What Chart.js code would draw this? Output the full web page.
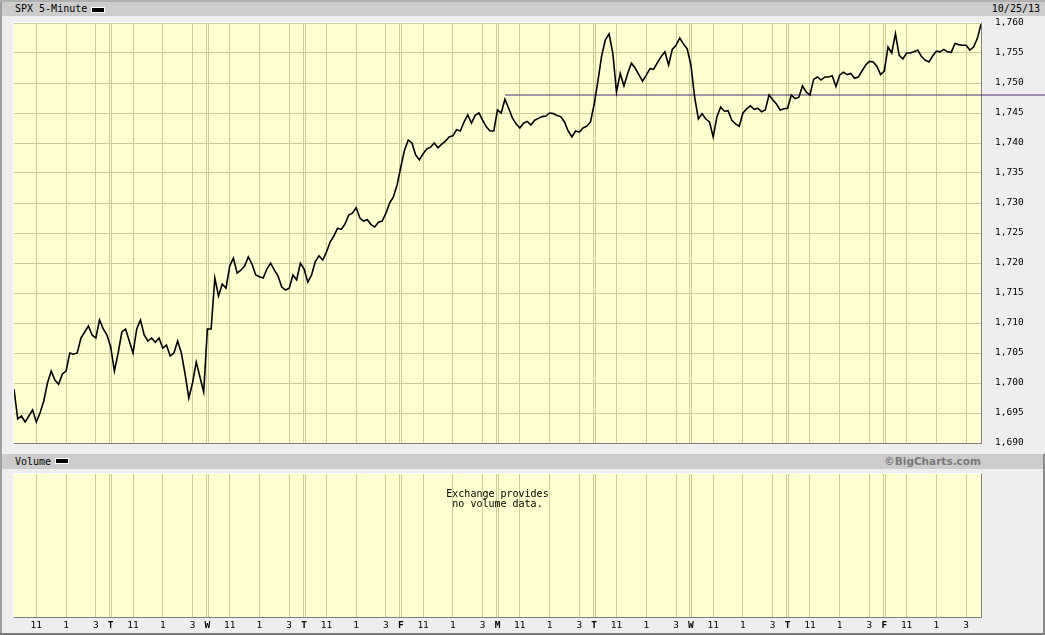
<!DOCTYPE html>
<html>
<head>
<meta charset="utf-8">
<script src="https://cdn.jsdelivr.net/npm/chart.js@4"></script>
<style>
  body { margin:0; width:1045px; height:635px; background:#eeeeee; position:relative; overflow:hidden;
         font-family:"DejaVu Sans Mono", monospace; font-size:10px; color:#000; }
  .abs { position:absolute; }
  .bar { position:absolute; left:2px; width:1043px; background:#cccccc; }
  .dash { position:absolute; width:12px; height:4px; background:#000; border:1px solid #fff; }
  .plotbg { position:absolute; left:13px; width:967px;
            background:repeating-conic-gradient(#ffffc2 0% 25%, #ffffe0 0% 50%) 0 0 / 2px 2px;
            border-left:1px solid #fff; border-top:1px solid #fff;
            border-right:1px solid #808080; border-bottom:1px solid #808080; }
  canvas { position:absolute; }
</style>
</head>
<body>
<div class="abs" style="left:0;top:0;width:2px;height:635px;background:#a0a0a0"></div>
<div class="abs" style="left:0;top:0;width:1045px;height:2px;background:#b0b0b0"></div>
<div class="abs" style="left:0;top:633px;width:1045px;height:2px;background:#7a7a7a"></div>
<div class="abs" style="left:1043px;top:454px;width:2px;height:181px;background:#8a8a8a"></div>

<div class="bar" style="top:2px;height:14px"></div>
<div class="abs" style="left:15px;top:3px;line-height:12px">SPX 5-Minute</div>
<div class="dash" style="left:91px;top:7px"></div>
<div class="abs" style="right:5px;top:3px;line-height:12px">10/25/13</div>

<div class="plotbg" style="top:22px;height:420px"></div>
<canvas id="price" width="1031" height="434" style="left:14px;top:16px"></canvas>

<div class="bar" style="top:454px;height:15px;width:1041px"></div>
<div class="abs" style="left:15px;top:455px;line-height:13px">Volume</div>
<div class="dash" style="left:55px;top:458px"></div>
<div class="abs" style="right:64px;top:455px;line-height:13px;font-family:'DejaVu Sans',sans-serif;font-weight:bold;font-size:10.5px;color:#7a7a7a">©BigCharts.com</div>

<div class="plotbg" style="top:473px;height:143px"></div>
<canvas id="volume" width="967" height="161" style="left:14px;top:474px"></canvas>
<div class="abs" style="left:14px;top:489px;width:967px;text-align:center;line-height:10px">Exchange provides<br>no volume data.</div>

<script>
// SPX 5-minute, two trading weeks ending 10/25/13, read every 15 minutes from 9:30
var mon1 = [1699, 1694, 1694.5, 1693.5, 1694.5, 1695.5, 1693.5, 1695, 1697, 1700, 1702, 1700.5, 1699.8,
            1701.5, 1702, 1705, 1704.8, 1705, 1707.5, 1708.5, 1709.5, 1708, 1707.5, 1710.5, 1709, 1708];
var tue1 = [1706, 1702, 1705, 1708.5, 1709, 1707, 1705, 1709, 1710.5, 1708, 1707, 1707.5, 1706.8,
            1707.5, 1705.8, 1706.3, 1704.5, 1705, 1707, 1705, 1701.5, 1697.5, 1700, 1703.5, 1701, 1698.5];
var wed1 = [1709, 1709, 1717.5, 1714.5, 1716.5, 1715.8, 1719.5, 1720.8, 1718.3, 1718.8, 1719.5, 1721, 1719.8,
            1718, 1717.7, 1717.5, 1719, 1720, 1718.8, 1717.8, 1716, 1715.5, 1715.8, 1718, 1717.2, 1720];
var thu1 = [1719, 1716.8, 1718, 1720.2, 1721.2, 1720.5, 1721.8, 1723.5, 1724.5, 1725.8, 1725.6, 1726.5, 1728,
            1728.3, 1729.2, 1727.5, 1727, 1727.2, 1726.4, 1726, 1726.8, 1727, 1728.3, 1730, 1731, 1733];
var fri1 = [1736, 1738.8, 1740.5, 1740, 1738, 1737.2, 1738.2, 1739, 1739.3, 1740, 1739.2, 1739.8, 1740.3,
            1741, 1741.2, 1742.2, 1742, 1743.5, 1744.7, 1743.3, 1744.6, 1745, 1743.8, 1742.7, 1742, 1742];
var mon2 = [1745.5, 1745, 1747.3, 1745.8, 1744.2, 1743.2, 1742.5, 1743.3, 1743.6, 1743, 1743.8, 1744.1, 1744.4,
            1744.5, 1745, 1744.9, 1744.6, 1744.4, 1743.5, 1742, 1741, 1742, 1741.8, 1742.5, 1742.8, 1743.5];
var tue2 = [1746.5, 1750.3, 1754.5, 1757.2, 1758.2, 1755, 1748.5, 1751.6, 1749.5, 1751.6, 1753.3, 1752.5, 1751.4,
            1750.3, 1751.3, 1752.4, 1752.3, 1753.4, 1754.4, 1755.2, 1753, 1755.6, 1756.3, 1757.5, 1756.5, 1755.7];
var wed2 = [1753, 1747.7, 1744, 1744.9, 1744, 1743.5, 1741, 1744.4, 1746, 1745.3, 1745.4, 1743.8, 1743.2,
            1742.8, 1745, 1745.7, 1746.2, 1745.6, 1745.8, 1745.2, 1745.5, 1748, 1747.2, 1746.5, 1745.5, 1745.7];
var thu2 = [1745.8, 1748, 1747.4, 1747.6, 1749.5, 1748.5, 1748, 1750.6, 1751, 1750.5, 1751, 1751, 1751.2,
            1749.4, 1751.3, 1751.8, 1751.4, 1751.6, 1750.8, 1751, 1752, 1753, 1753.6, 1753.5, 1752.8, 1751.4];
var fri2 = [1752, 1756, 1755, 1758.2, 1754.6, 1754, 1755, 1755, 1755.2, 1755.5, 1754.4, 1753.8, 1753.5,
            1754.5, 1755.3, 1755.2, 1755.6, 1755.2, 1755.1, 1756.6, 1756.4, 1756.3, 1756.3, 1755.5, 1756, 1757.4, 1759.8];

var dayLetters = ["M", "T", "W", "T", "F", "M", "T", "W", "T", "F"];
var hourTicks = [90, 210, 330];          // minutes after 9:30 -> 11:00, 1:00, 3:00
var hourLabels = ["11", "1", "3"];
var priceMin = 1690, priceMax = 1760, priceStep = 5;
var refLevel = 1748, refStart = 1980;

var SESSION = 390, STEP = 15;
var GRID = "#cccc99";
var FONT = "DejaVu Sans Mono";

var days = [mon1, tue1, wed1, thu1, fri1, mon2, tue2, wed2, thu2, fri2];
var prices = [];
days.forEach(function(vals, d) {
    vals.forEach(function(v, i) { prices.push({ x: d * SESSION + i * STEP, y: v }); });
});

function timeTicks(scale) {
    var t = [];
    for (var d = 0; d < days.length; d++) {
        var base = d * SESSION;
        if (d > 0) t.push({ value: base - 4 }, { value: base }, { value: base + 4 });
        hourTicks.forEach(function(h) { t.push({ value: base + h }); });
    }
    scale.ticks = t;
}

function timeLabel(value) {
    var r = value % SESSION;
    if (r === 0) return dayLetters[Math.round(value / SESSION)];
    var k = hourTicks.indexOf(r);
    return k >= 0 ? hourLabels[k] : "";
}

function timeGridColor(ctx) {
    return (ctx.tick && ctx.tick.value % SESSION === 0) ? "rgba(0,0,0,0)" : GRID;
}

var xMax = days.length * SESSION;

new Chart(document.getElementById("price"), {
    type: "line",
    data: {
        datasets: [
            { data: prices, borderColor: "#000", borderWidth: 1.6, pointRadius: 0, tension: 0, order: 1 },
            { data: [{ x: refStart, y: refLevel }, { x: xMax + 300, y: refLevel }],
              borderColor: "#4a2a80", borderWidth: 1, pointRadius: 0, order: 2,
              clip: { left: 0, top: 0, right: 70, bottom: 0 } }
        ]
    },
    options: {
        responsive: false, animation: false,
        layout: { padding: { top: 7, bottom: 7, left: 0, right: 0 } },
        plugins: { legend: { display: false }, tooltip: { enabled: false } },
        scales: {
            x: {
                type: "linear", min: 0, max: xMax,
                afterBuildTicks: timeTicks,
                afterFit: function(s) { s.height = 0; s.paddingLeft = 0; s.paddingRight = 0; },
                grid: { color: timeGridColor, drawTicks: false },
                border: { display: false },
                ticks: { display: false, autoSkip: false }
            },
            y: {
                position: "right", min: priceMin, max: priceMax,
                afterFit: function(s) { s.width = 64; s.paddingTop = 0; s.paddingBottom = 0; },
                grid: { color: function(ctx) { return ctx.tick.value === priceMin ? "rgba(0,0,0,0)" : GRID; },
                        drawTicks: false },
                border: { display: false },
                ticks: { stepSize: priceStep, padding: 14, color: "#000", font: { family: FONT, size: 9.5 },
                         callback: function(v) { return v.toLocaleString("en-US"); } }
            }
        }
    }
});

new Chart(document.getElementById("volume"), {
    type: "line",
    data: { datasets: [{ data: [] }] },
    options: {
        responsive: false, animation: false,
        layout: { padding: 0 },
        plugins: { legend: { display: false }, tooltip: { enabled: false } },
        scales: {
            x: {
                type: "linear", min: 0, max: xMax,
                afterBuildTicks: timeTicks,
                afterFit: function(s) { s.height = 18; s.paddingLeft = 0; s.paddingRight = 0; },
                grid: { color: timeGridColor, drawTicks: false },
                border: { display: false },
                ticks: {
                    autoSkip: false, maxRotation: 0, padding: 3, color: "#000",
                    callback: timeLabel,
                    font: function(ctx) {
                        var bold = ctx.tick && ctx.tick.value % SESSION === 0;
                        return { family: FONT, size: 9.5, weight: bold ? "bold" : "normal" };
                    }
                }
            },
            y: { display: false, min: 0, max: 1 }
        }
    }
});
</script>
</body>
</html>
